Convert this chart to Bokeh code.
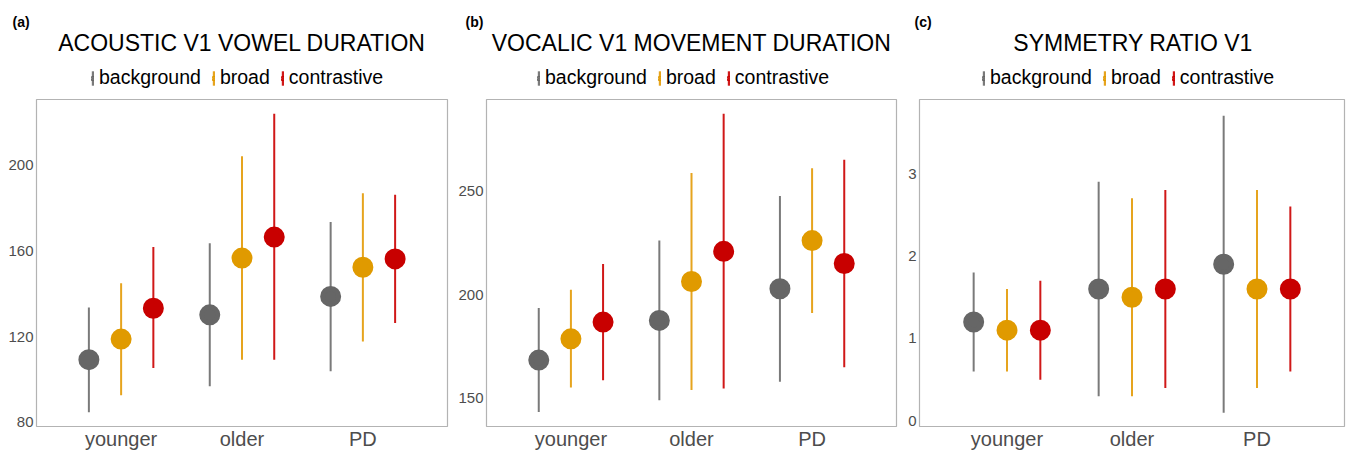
from bokeh.plotting import figure
from bokeh.layouts import row, column
from bokeh.models import (ColumnDataSource, FactorRange, Range1d, FixedTicker,
                          Legend, LegendItem, Label)
from bokeh.transform import dodge
from bokeh.embed import file_html
from bokeh.resources import INLINE

groups = ["younger", "older", "PD"]
conditions = ["background", "broad", "contrastive"]

# (a) acoustic V1 vowel duration
a_mean = {"background": [109.3, 130.2, 138.8], "broad": [118.9, 156.7, 152.4], "contrastive": [133.3, 166.5, 156.3]}
a_low = {"background": [84.8, 96.9, 103.9], "broad": [92.7, 109.3, 117.8], "contrastive": [105.4, 109.3, 126.4]}
a_high = {"background": [133.6, 163.6, 173.5], "broad": [145.0, 204.2, 187.0], "contrastive": [161.9, 224.0, 186.2]}
a_ticks = [80, 120, 160, 200]

# (b) vocalic V1 movement duration
b_mean = {"background": [168.4, 187.6, 202.9], "broad": [178.7, 206.4, 226.2], "contrastive": [186.8, 221.0, 215.1]}
b_low = {"background": [143.3, 149.0, 157.9], "broad": [155.1, 153.9, 191.2], "contrastive": [158.7, 154.7, 165.0]}
b_high = {"background": [193.6, 226.2, 247.7], "broad": [202.4, 258.9, 261.2], "contrastive": [214.9, 287.5, 265.3]}
b_ticks = [150, 200, 250]

# (c) symmetry ratio V1
c_mean = {"background": [1.2, 1.6, 1.9], "broad": [1.1, 1.5, 1.6], "contrastive": [1.1, 1.6, 1.6]}
c_low = {"background": [0.6, 0.3, 0.1], "broad": [0.6, 0.3, 0.4], "contrastive": [0.5, 0.4, 0.6]}
c_high = {"background": [1.8, 2.9, 3.7], "broad": [1.6, 2.7, 2.8], "contrastive": [1.7, 2.8, 2.6]}
c_ticks = [0, 1, 2, 3]

dot_colors = {"background": "#666666", "broad": "#E09A00", "contrastive": "#C80000"}
bar_colors = {"background": "#7a7a7a", "broad": "#E6A41E", "contrastive": "#D01818"}
FONT = "Liberation Sans"
HEAD_H = 97
MAIN_H = 355
TOP = 2
BOTTOM = 25


def add_marks(p, src, c, off, dot_line):
    bars = p.rect(x=dodge("g", off, range=p.x_range), y="mid", width=2,
                  height="span", width_units="screen", source=src,
                  fill_color=bar_colors[c], line_alpha=0)
    dots = p.scatter(x=dodge("g", off, range=p.x_range), y="m", size=16,
                     source=src, fill_color=dot_colors[c],
                     line_color=dot_colors[c], line_width=dot_line)
    return bars, dots


def make_panel(letter, title, mean, low, high, yr, ticks, width, left, right,
               legend_x, letter_off):
    xr = FactorRange(*groups, range_padding=0.2, range_padding_units="absolute")
    p = figure(width=width, height=MAIN_H, x_range=xr,
               y_range=Range1d(*yr), output_backend="svg", toolbar_location=None,
               min_border_left=left, min_border_right=right,
               min_border_top=TOP, min_border_bottom=BOTTOM,
               background_fill_color="white", border_fill_color="white")
    p.xgrid.grid_line_color = None
    p.ygrid.grid_line_color = None
    p.outline_line_color = "#b3b3b3"
    p.outline_line_width = 1.2
    for ax in (p.xaxis[0], p.yaxis[0]):
        ax.axis_line_color = None
        ax.major_tick_line_color = None
        ax.minor_tick_line_color = None
        ax.major_tick_out = 0
        ax.major_tick_in = 0
        ax.major_label_text_font = FONT
        ax.major_label_text_color = "#4d4d4d"
    p.xaxis.major_label_text_font_size = "20px"
    p.xaxis.major_label_standoff = 1
    p.yaxis.major_label_text_font_size = "15px"
    p.yaxis.major_label_standoff = 3
    p.yaxis.ticker = FixedTicker(ticks=ticks)

    # header strip (frame aligned with the panel frame): letter, title, legend
    h = figure(width=width, height=HEAD_H, x_range=xr, y_range=Range1d(-2, -1),
               output_backend="svg", toolbar_location=None,
               x_axis_location=None, y_axis_location=None,
               min_border_left=0, min_border_right=0,
               min_border_top=29, min_border_bottom=0,
               background_fill_color="white", border_fill_color="white")
    h.outline_line_color = None
    h.grid.visible = False
    h.title.text = letter
    h.title.align = "left"
    h.title.offset = letter_off
    h.title.standoff = 0
    h.title.text_font = FONT
    h.title.text_font_size = "14px"
    h.title.text_font_style = "bold"
    h.title.text_color = "black"

    items = []
    n = len(conditions)
    for i, c in enumerate(conditions):
        off = (i - (n - 1) / 2) * 0.8 / n
        src = ColumnDataSource(dict(
            g=groups, m=mean[c],
            mid=[(lo + hi) / 2 for lo, hi in zip(low[c], high[c])],
            span=[hi - lo for lo, hi in zip(low[c], high[c])]))
        add_marks(p, src, c, off, 5)
        hb, hd = add_marks(h, src, c, off, 4)   # out of header range: legend keys only
        items.append(LegendItem(label=c, renderers=[hb, hd]))

    legend = Legend(items=items, orientation="horizontal",
                    location=(legend_x, 8),
                    glyph_width=3, glyph_height=18, label_standoff=5, spacing=11,
                    padding=0, margin=0, border_line_alpha=0,
                    background_fill_alpha=0, label_text_font=FONT,
                    label_text_font_size="19.5px", label_text_color="black",
                    label_height=20)
    h.add_layout(legend, "center")
    frame_w = width - left - right
    h.add_layout(Label(x=frame_w / 2, x_units="screen", y=HEAD_H - 42,
                       y_units="screen", text=title, text_align="center",
                       text_baseline="middle", text_font=FONT,
                       text_font_size="23px", text_color="black"))
    return column(h, p, spacing=0)


pa = make_panel("(a)", "ACOUSTIC V1 VOWEL DURATION", a_mean, a_low, a_high,
                (78.1, 230.7), a_ticks, 455, 36, 8, 55, -24)
pb = make_panel("(b)", "VOCALIC V1 MOVEMENT DURATION", b_mean, b_low, b_high,
                (136.3, 294.4), b_ticks, 450, 31, 9, 51, -21)
pc = make_panel("(c)", "SYMMETRY RATIO V1", c_mean, c_low, c_high,
                (-0.068, 3.898), c_ticks, 442, 12, 3, 63, -5)

layout = row(pa, pb, pc, spacing=0)
open("out.html", "w").write(file_html(layout, INLINE))
